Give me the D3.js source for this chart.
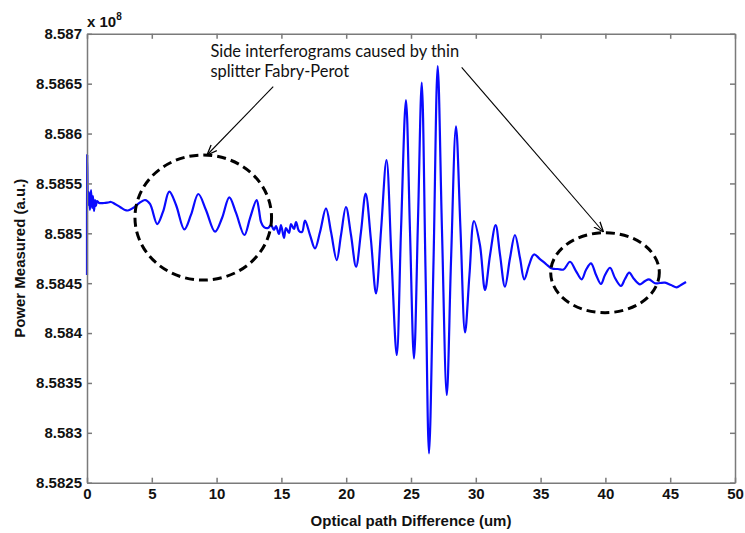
<!DOCTYPE html>
<html>
<head>
<meta charset="utf-8">
<script src="https://cdn.jsdelivr.net/npm/d3@7"></script>
<style>
  html, body { margin: 0; padding: 0; background: #ffffff; }
  svg { display: block; }
</style>
</head>
<body>
<svg id="chart" width="745" height="533"></svg>
<script>
// ---------- data (power in units of 1e8) ----------
const opd = [
  0, 0.015, 0.08, 0.15, 0.23, 0.31, 0.39, 0.46, 0.54, 0.62, 0.69, 0.77, 0.93,
  1.31, 1.62, 1.85, 2.16, 2.55, 2.93, 3.16, 3.55, 3.94, 4.48, 4.86, 5.42, 5.86,
  6.35, 6.87, 7.51, 8.02, 8.59, 9.18, 9.88, 10.42, 10.98, 11.50, 12.14, 12.58,
  13.09, 13.27, 13.43, 13.66, 13.97, 14.20, 14.43, 14.58, 14.81, 14.97, 15.20,
  15.35, 15.59, 15.74, 15.97, 16.13, 16.36, 16.59, 16.82, 17.21, 17.59, 17.98,
  18.44, 18.83, 19.27, 19.60, 19.98, 20.37, 20.76, 21.14, 21.50, 21.91, 22.30,
  22.69, 23.11, 23.50, 23.90, 24.23, 24.61, 24.92, 25.23, 25.54, 25.83, 26.12,
  26.39, 26.74, 27.06, 27.39, 27.76, 28.09, 28.47, 28.82, 29.17, 29.51, 29.86,
  30.32, 30.71, 31.10, 31.53, 31.87, 32.25, 32.64, 33.02, 33.41, 33.74, 34.11,
  34.49, 34.95, 35.42, 35.88, 36.34, 36.77, 37.27, 37.73, 38.17, 38.50, 38.89,
  39.28, 39.66, 39.97, 40.36, 40.74, 41.20, 41.51, 41.84, 42.21, 42.67, 43.06,
  43.36, 43.83, 44.21, 44.60, 45.06, 45.50, 45.83, 46.22
];
const power = [
  8.584582, 8.585785, 8.585284, 8.585414, 8.585234, 8.585434, 8.585254, 8.585374,
  8.585224, 8.585334, 8.585274, 8.585324, 8.585304,
  8.585304, 8.585309, 8.585314, 8.585294, 8.585264, 8.585234, 8.585229, 8.585254,
  8.585294, 8.585334, 8.585294, 8.585093, 8.585214,
  8.585417, 8.585284, 8.585040, 8.585184, 8.585394, 8.585234, 8.585016, 8.585153,
  8.585361, 8.585204, 8.584983, 8.585153,
  8.585334, 8.585234, 8.585113, 8.585063, 8.585053, 8.585083, 8.585033, 8.585073,
  8.584993, 8.585083, 8.584953,
  8.585053, 8.585003, 8.585093, 8.585043, 8.585113, 8.585023, 8.585013, 8.585128,
  8.584983, 8.584848, 8.585013,
  8.585249, 8.585013, 8.584732, 8.584983, 8.585264, 8.584983, 8.584665, 8.585013,
  8.585399, 8.584933, 8.584397,
  8.585033, 8.585735, 8.584732, 8.583780, 8.585033, 8.586336, 8.585033, 8.583745,
  8.585133, 8.586512, 8.584632,
  8.582793, 8.584732, 8.586677, 8.585033, 8.583379, 8.584732, 8.586071, 8.585033,
  8.584006, 8.584582, 8.585123,
  8.584883, 8.584432, 8.584783, 8.585083, 8.584783, 8.584465, 8.584752, 8.584983,
  8.584752, 8.584537, 8.584682,
  8.584788, 8.584742, 8.584692, 8.584647, 8.584642, 8.584637, 8.584715, 8.584622,
  8.584539, 8.584632, 8.584699,
  8.584582, 8.584492, 8.584582, 8.584655, 8.584552, 8.584472, 8.584542, 8.584605,
  8.584542, 8.584489, 8.584522,
  8.584539, 8.584499, 8.584502, 8.584505, 8.584482, 8.584459, 8.584482, 8.584512
];
const xTicks = [0, 5, 10, 15, 20, 25, 30, 35, 40, 45, 50];
const yTicks = [8.5825, 8.583, 8.5835, 8.584, 8.5845, 8.585, 8.5855, 8.586, 8.5865, 8.587];
const yTickLabels = ["8.5825", "8.583", "8.5835", "8.584", "8.5845", "8.585", "8.5855", "8.586", "8.5865", "8.587"];
const xTitle = "Optical path Difference (um)";
const yTitle = "Power Measured (a.u.)";
const noteLines = ["Side interferograms caused by thin", "splitter Fabry-Perot"];
// annotation ellipses: [cx, cy, rx, ry] in data units
const ellipses = [[8.97, 8.585158, 5.27, 0.000627], [39.97, 8.584605, 4.19, 0.000401]];
// arrows: [x1, y1, x2, y2] in data units (tip at x2,y2)
const arrows = [[14.37, 8.586470, 9.26, 8.585785], [28.91, 8.586664, 39.85, 8.585013]];
const notePos = [9.52, 8.586770, 8.586564];

// ---------- layout ----------
const L = 87, R = 735, T = 33.8, B = 482.7;
const x = d3.scaleLinear().domain([0, 50]).range([L, R]);
const y = d3.scaleLinear().domain([8.5825, 8.587]).range([B, T]);

const svg = d3.select("#chart");
const axisColor = "#7a7a7a";
const font = "'Liberation Sans', Arial, Helvetica, sans-serif";

// data line
const line = d3.line().x((d, i) => x(opd[i])).y(d => y(d)).curve(d3.curveCatmullRom.alpha(0.5));
svg.append("path")
  .attr("d", line(power))
  .attr("fill", "none")
  .attr("stroke", "#0a0aff")
  .attr("stroke-width", 2.2)
  .attr("stroke-linejoin", "round");

// axes
function styleAxis(g) {
  g.selectAll("path.domain").attr("stroke", axisColor).attr("stroke-width", 1.5);
  g.selectAll(".tick line").attr("stroke", axisColor).attr("stroke-width", 1.5);
  g.selectAll(".tick text")
    .attr("fill", "#111")
    .style("font-family", font)
    .style("font-weight", "bold")
    .style("font-size", "15px");
}
const gB = svg.append("g").attr("transform", `translate(0,${B})`)
  .call(d3.axisBottom(x).tickValues(xTicks).tickSizeInner(-5).tickSizeOuter(0).tickPadding(6).tickFormat(d3.format("d")));
styleAxis(gB);
const gT = svg.append("g").attr("transform", `translate(0,${T})`)
  .call(d3.axisTop(x).tickValues(xTicks).tickSizeInner(-5).tickSizeOuter(0).tickFormat(""));
styleAxis(gT);
const gL = svg.append("g").attr("transform", `translate(${L},0)`)
  .call(d3.axisLeft(y).tickValues(yTicks).tickSizeInner(-5).tickSizeOuter(0).tickPadding(5)
    .tickFormat((d, i) => yTickLabels[i]));
styleAxis(gL);
const gR = svg.append("g").attr("transform", `translate(${R},0)`)
  .call(d3.axisRight(y).tickValues(yTicks).tickSizeInner(-5).tickSizeOuter(0).tickFormat(""));
styleAxis(gR);

// axis titles
svg.append("text")
  .attr("x", (L + R) / 2).attr("y", 526)
  .attr("text-anchor", "middle")
  .style("font-family", font).style("font-weight", "bold").style("font-size", "15px")
  .attr("fill", "#111")
  .text(xTitle);
svg.append("text")
  .attr("transform", `translate(25,${(T + B) / 2}) rotate(-90)`)
  .attr("text-anchor", "middle")
  .style("font-family", font).style("font-weight", "bold").style("font-size", "15px")
  .attr("fill", "#111")
  .text(yTitle);

// exponent label
const ex = svg.append("text")
  .attr("x", L).attr("y", 27)
  .style("font-family", font).style("font-weight", "bold").style("font-size", "15px")
  .attr("fill", "#111");
ex.append("tspan").text("x 10");
ex.append("tspan").attr("dy", -7).style("font-size", "10px").text("8");

// annotation ellipses
svg.selectAll("ellipse.note").data(ellipses).enter().append("ellipse")
  .attr("cx", d => x(d[0])).attr("cy", d => y(d[1]))
  .attr("rx", d => x(d[2]) - x(0)).attr("ry", d => y(8.5825) - y(8.5825 + d[3]))
  .attr("fill", "none").attr("stroke", "#000").attr("stroke-width", 3)
  .attr("stroke-dasharray", "9,5");

// arrows
svg.append("defs").append("marker")
  .attr("id", "arr").attr("viewBox", "0 -5 10 10")
  .attr("refX", 10).attr("refY", 0)
  .attr("markerWidth", 10).attr("markerHeight", 10)
  .attr("markerUnits", "userSpaceOnUse")
  .attr("orient", "auto")
  .append("path").attr("d", "M0,-4L10,0L0,4")
  .attr("fill", "none").attr("stroke", "#000").attr("stroke-width", 1.3);
svg.selectAll("line.arrow").data(arrows).enter().append("line")
  .attr("x1", d => x(d[0])).attr("y1", d => y(d[1]))
  .attr("x2", d => x(d[2])).attr("y2", d => y(d[3]))
  .attr("stroke", "#000").attr("stroke-width", 1.1)
  .attr("marker-end", "url(#arr)");

// annotation text
const noteFont = "Lato, 'Open Sans', sans-serif";
const nt = svg.selectAll("text.note").data(noteLines).enter().append("text")
  .attr("class", "note")
  .attr("x", x(notePos[0]))
  .attr("y", (d, i) => y(notePos[1 + i]))
  .style("font-family", noteFont).style("font-size", "16px")
  .attr("fill", "#111")
  .text(d => d);
// fit first line width to the reference span
const w0 = nt.nodes()[0].getComputedTextLength();
const fs = 16 * 249 / w0;
nt.style("font-size", fs.toFixed(2) + "px");
</script>
</body>
</html>
